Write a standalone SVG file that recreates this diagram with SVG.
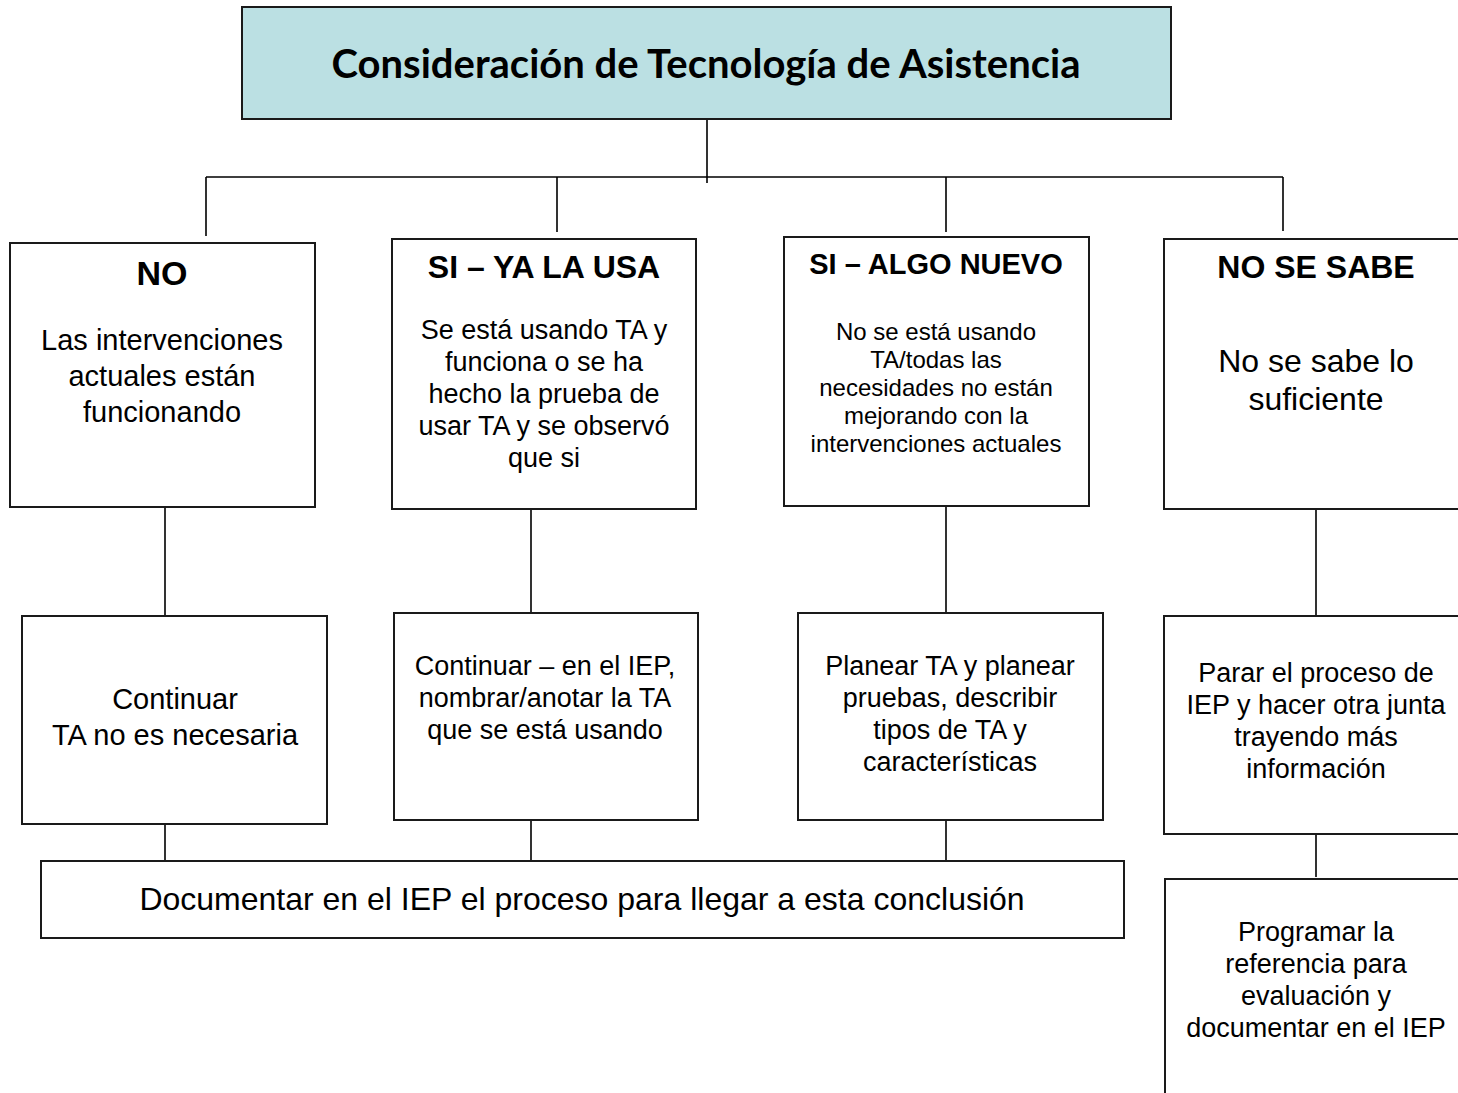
<svg xmlns="http://www.w3.org/2000/svg" width="1458" height="1093" viewBox="0 0 1458 1093">
<style>
.box{fill:#fff;stroke:#1a1a1a;stroke-width:2}
.title{fill:#bbe0e3;stroke:#1a1a1a;stroke-width:2}
.con{stroke:#000;stroke-width:1.6;fill:none}
text{font-family:"Liberation Sans",Arial,sans-serif;fill:#000;text-anchor:middle}
.h{font-weight:bold}
.tt{font-family:Lato,"Open Sans",sans-serif;font-weight:bold;font-size:40px}
</style>
<rect width="1458" height="1093" fill="#fff"/>
<g id="connectors">
<path class="con" d="M707 119V183M206 177H1283M206 177V236M557 177V232M946 177V232M1283 177V231"/>
<path class="con" d="M165 507V616M531 509V612M946 506V613M1316 509V616M1316 834V877"/>
<path class="con" d="M165 822V861M531 820V861M946 820V861"/>
</g>
<g id="title">
<rect class="title" x="242" y="7" width="929" height="112"/>
<text class="tt" x="706" y="78">Consideración de Tecnología de Asistencia</text>
</g>
<g id="no">
<rect class="box" x="10" y="243" width="305" height="264"/>
<text class="h" x="162" y="285" font-size="34">NO</text>
<text x="162" y="350" font-size="29">Las intervenciones</text>
<text x="162" y="386" font-size="29">actuales están</text>
<text x="162" y="422" font-size="29">funcionando</text>
</g>
<g id="si-ya">
<rect class="box" x="392" y="239" width="304" height="270"/>
<text class="h" x="544" y="278" font-size="32">SI – YA LA USA</text>
<text x="544" y="339" font-size="27">Se está usando TA y</text>
<text x="544" y="371" font-size="27">funciona o se ha</text>
<text x="544" y="403" font-size="27">hecho la prueba de</text>
<text x="544" y="435" font-size="27">usar TA y se observó</text>
<text x="544" y="467" font-size="27">que si</text>
</g>
<g id="si-nuevo">
<rect class="box" x="784" y="237" width="305" height="269"/>
<text class="h" x="936" y="274" font-size="29">SI – ALGO NUEVO</text>
<text x="936" y="340" font-size="24">No se está usando</text>
<text x="936" y="368" font-size="24">TA/todas las</text>
<text x="936" y="396" font-size="24">necesidades no están</text>
<text x="936" y="424" font-size="24">mejorando con la</text>
<text x="936" y="452" font-size="24">intervenciones actuales</text>
</g>
<g id="no-sabe">
<rect class="box" x="1164" y="239" width="310" height="270"/>
<text class="h" x="1316" y="278" font-size="32">NO SE SABE</text>
<text x="1316" y="372" font-size="32">No se sabe lo</text>
<text x="1316" y="410" font-size="32">suficiente</text>
</g>
<g id="continuar">
<rect class="box" x="22" y="616" width="305" height="208"/>
<text x="175" y="709" font-size="29">Continuar</text>
<text x="175" y="745" font-size="29">TA no es necesaria</text>
</g>
<g id="continuar-iep">
<rect class="box" x="394" y="613" width="304" height="207"/>
<text x="545" y="675" font-size="27">Continuar – en el IEP,</text>
<text x="545" y="707" font-size="27">nombrar/anotar la TA</text>
<text x="545" y="739" font-size="27">que se está usando</text>
</g>
<g id="planear">
<rect class="box" x="798" y="613" width="305" height="207"/>
<text x="950" y="675" font-size="27">Planear TA y planear</text>
<text x="950" y="707" font-size="27">pruebas, describir</text>
<text x="950" y="739" font-size="27">tipos de TA y</text>
<text x="950" y="771" font-size="27">características</text>
</g>
<g id="parar">
<rect class="box" x="1164" y="616" width="310" height="218"/>
<text x="1316" y="682" font-size="27">Parar el proceso de</text>
<text x="1316" y="714" font-size="27">IEP y hacer otra junta</text>
<text x="1316" y="746" font-size="27">trayendo más</text>
<text x="1316" y="778" font-size="27">información</text>
</g>
<g id="programar">
<rect class="box" x="1165" y="879" width="310" height="230"/>
<text x="1316" y="941" font-size="27">Programar la</text>
<text x="1316" y="973" font-size="27">referencia para</text>
<text x="1316" y="1005" font-size="27">evaluación y</text>
<text x="1316" y="1037" font-size="27">documentar en el IEP</text>
</g>
<g id="documentar">
<rect class="box" x="41" y="861" width="1083" height="77"/>
<text x="582" y="910" font-size="32">Documentar en el IEP el proceso para llegar a esta conclusión</text>
</g>
</svg>
